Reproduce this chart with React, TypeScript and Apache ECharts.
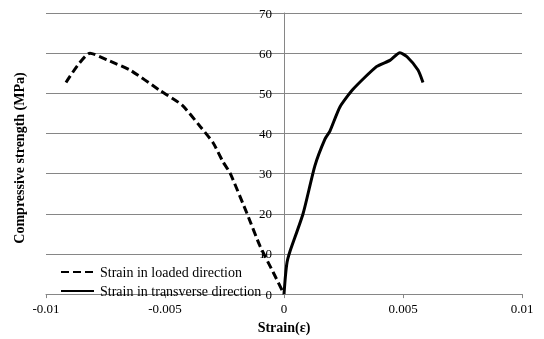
import React, { useEffect, useRef } from "react";
import * as echarts from "echarts";

const loadedStrain = [-0.00916, -0.00815, -0.00731, -0.00647, -0.00521, -0.00429, -0.00353, -0.00298, -0.00256, -0.00227, -0.00155, -0.00101, -0.00046, 0];
const loadedStress = [52.7, 60.0, 58.0, 55.8, 50.7, 47.1, 41.8, 37.7, 32.9, 30.2, 20.0, 12.0, 5.5, 0];

const transStrain = [0, 0.00006, 0.00013, 0.00025, 0.0008, 0.0013, 0.00172, 0.00193, 0.00235, 0.0029, 0.0039, 0.00445, 0.00487, 0.00517, 0.00563, 0.00584];
const transStress = [0, 4.5, 8.0, 10.6, 20.0, 32.0, 38.6, 40.6, 46.6, 51.0, 56.7, 58.2, 60.1, 59.1, 55.8, 52.7];

const seriesNames = ["Strain in loaded direction", "Strain in transverse direction"];
const xTicks = [-0.01, -0.005, 0, 0.005, 0.01];

const FONT = "'Liberation Serif', 'Times New Roman', serif";

export default function App() {
  const ref = useRef<HTMLDivElement>(null);
  useEffect(() => {
    if (!ref.current) return;
    const chart = echarts.init(ref.current, null, { renderer: "svg" });
    chart.setOption({
      animation: false,
      textStyle: { fontFamily: FONT },
      grid: { left: 46, right: 22, top: 13, bottom: 36 },
      legend: {
        orient: "vertical",
        left: 60,
        top: 265,
        padding: 0,
        itemWidth: 33,
        itemHeight: 12,
        itemGap: 5,
        itemStyle: { opacity: 0 },
        textStyle: { fontFamily: FONT, fontSize: 14, color: "#000", padding: [0, 0, 0, 1] },
        data: seriesNames,
      },
      xAxis: {
        type: "value",
        min: -0.01,
        max: 0.01,
        interval: 0.005,
        name: "Strain(ε)",
        nameLocation: "middle",
        nameGap: 24,
        nameTextStyle: { fontFamily: FONT, fontSize: 14, fontWeight: "bold", color: "#000" },
        axisLine: { show: true, onZero: false, lineStyle: { color: "#868686", width: 1 } },
        axisTick: { show: true, length: 4, lineStyle: { color: "#868686" } },
        axisLabel: {
          fontFamily: FONT,
          fontSize: 13,
          color: "#000",
          margin: 8,
          formatter: (v: number) => {
            const t = xTicks.find((x) => Math.abs(x - v) < 1e-9);
            return t === undefined ? "" : String(t);
          },
        },
        splitLine: { show: false },
      },
      yAxis: {
        type: "value",
        min: 0,
        max: 70,
        interval: 10,
        offset: -238,
        axisLine: { show: true, onZero: false, lineStyle: { color: "#868686", width: 1 } },
        axisTick: { show: false },
        axisLabel: { fontFamily: FONT, fontSize: 13, color: "#000", margin: 12 },
        splitLine: { show: true, lineStyle: { color: "#868686", width: 1 } },
      },
      graphic: [
        {
          type: "text",
          x: 19,
          y: 158,
          rotation: Math.PI / 2,
          style: {
            text: "Compressive strength (MPa)",
            font: `bold 14px ${FONT}`,
            fill: "#000",
            align: "center",
            verticalAlign: "middle",
          },
        },
      ],
      series: [
        {
          name: seriesNames[0],
          type: "line",
          smooth: 0.2,
          showSymbol: false,
          symbolSize: 0,
          lineStyle: { color: "#000", width: 3, type: [8, 4] },
          itemStyle: { color: "#000" },
          data: loadedStrain.map((x, i) => [x, loadedStress[i]]),
        },
        {
          name: seriesNames[1],
          type: "line",
          smooth: 0.2,
          showSymbol: false,
          symbolSize: 0,
          lineStyle: { color: "#000", width: 3 },
          itemStyle: { color: "#000" },
          data: transStrain.map((x, i) => [x, transStress[i]]),
        },
      ],
    });
    return () => chart.dispose();
  }, []);
  return <div ref={ref} style={{ width: 544, height: 339, position: "fixed", left: 0, top: 0 }} />;
}
